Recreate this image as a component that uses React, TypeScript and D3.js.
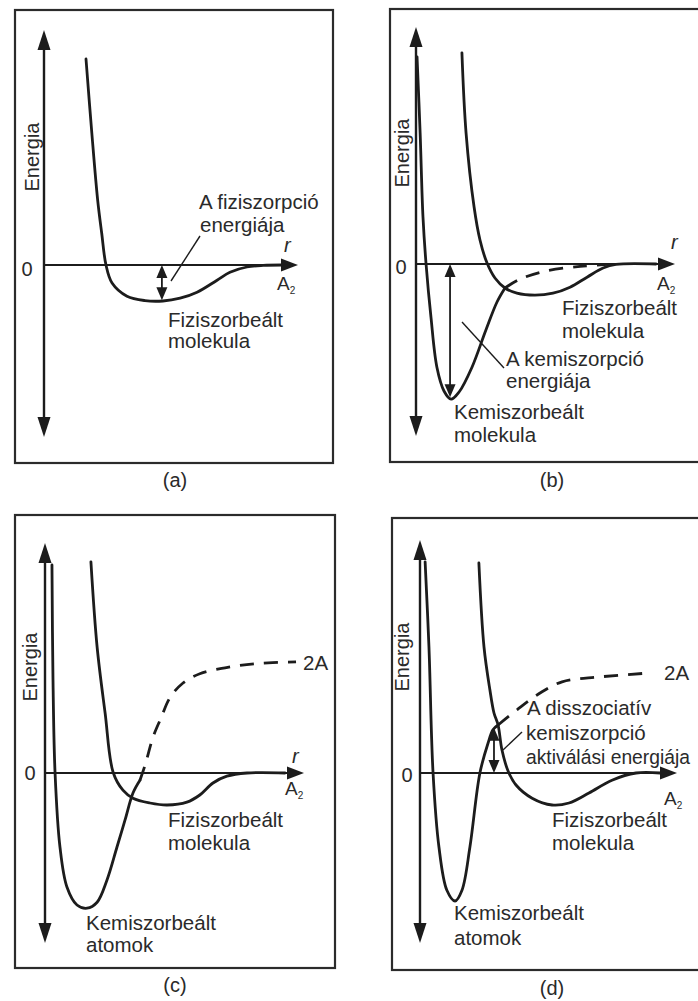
import * as d3 from "d3";

type Pt = [number, number];

// r runs 0–10 along each r axis, energy 0 = free A2 molecule
const physA: Pt[] = [
  [1.66, 5.15], [1.89, 3.3], [2.12, 1.63], [2.28, 0.8], [2.45, 0], [2.69, -0.45],
  [3.28, -0.78], [3.99, -0.89], [4.7, -0.9], [5.38, -0.83], [6.05, -0.68],
  [6.84, -0.38], [7.35, -0.18], [8.02, -0.05], [8.66, -0.01], [9.4, 0],
];

const chemB: Pt[] = [
  [0.04, 5.18], [0.16, 3.28], [0.27, 1.18], [0.39, 0], [0.58, -1.33], [0.81, -2.58],
  [1.09, -3.18], [1.36, -3.38], [1.67, -3.2], [2.17, -2.58], [2.71, -1.65],
  [3.14, -0.95], [3.45, -0.6],
];
const chemBDashed: Pt[] = [
  [3.45, -0.6], [4.03, -0.38], [5.0, -0.18], [6.36, -0.06], [7.52, -0.01],
];
const physB: Pt[] = [
  [1.78, 5.28], [1.94, 3.28], [2.25, 1.43], [2.48, 0.6], [2.75, 0.03], [3.06, -0.35],
  [3.45, -0.6], [3.91, -0.73], [4.61, -0.78], [5.31, -0.73], [5.97, -0.58],
  [6.63, -0.33], [7.25, -0.1], [7.75, -0.01], [9.3, 0],
];

const chemC: Pt[] = [
  [0.27, 5.2], [0.31, 2.33], [0.39, 0], [0.58, -1.85], [0.85, -2.85], [1.24, -3.3],
  [1.63, -3.38], [2.02, -3.23], [2.4, -2.68], [2.79, -1.85], [3.1, -1.18],
  [3.41, -0.5], [3.68, -0.18],
];
const chemCDashed: Pt[] = [
  [3.68, -0.18], [3.88, 0.2], [4.19, 0.9], [4.5, 1.38], [4.84, 1.88], [5.35, 2.25],
  [6.0, 2.48], [6.98, 2.63], [8.14, 2.73], [9.73, 2.78],
];
const physC: Pt[] = [
  [1.78, 5.28], [2.02, 3.15], [2.33, 1.5], [2.64, 0.02], [3.02, -0.43], [3.41, -0.63],
  [4.07, -0.75], [4.73, -0.8], [5.5, -0.73], [6.0, -0.55], [6.51, -0.25],
  [7.05, -0.08], [7.83, 0], [9.3, 0],
];

const chemD: Pt[] = [
  [0.2, 5.28], [0.35, 3.15], [0.51, 0], [0.74, -1.85], [1.05, -2.93], [1.37, -3.2],
  [1.64, -2.93], [1.95, -1.85], [2.34, 0], [2.66, 0.75], [2.85, 1.08], [3.05, 1.2],
];
const chemDDashed: Pt[] = [
  [3.05, 1.2], [3.79, 1.58], [4.69, 2.0], [5.55, 2.28], [6.99, 2.4], [8.95, 2.5],
];
const physD: Pt[] = [
  [2.3, 5.25], [2.5, 3.15], [2.73, 2.08], [2.89, 1.5], [3.05, 1.2], [3.2, 0.58],
  [3.44, 0.05], [3.75, -0.3], [4.38, -0.63], [5.16, -0.8], [5.82, -0.75],
  [6.6, -0.5], [7.5, -0.18], [8.44, 0], [9.38, 0],
];

// double arrows: [r, energy at far end]
const arrowA: Pt = [4.66, -0.88];
const arrowB: Pt = [1.32, -3.33];
const arrowD: Pt = [2.89, 1.13];

const FONT = "'Liberation Sans', Arial, Helvetica, sans-serif";
const INK = "#1c1c1c";
const TXT = "#2a2a2a";

type Label = { t: string; x: number; y: number; kind?: "rot" | "mid" | "r" | "a2"; fit?: number };

interface Panel {
  frame: [number, number, number, number];
  axisX: number;
  axisTop: number;
  axisBottom: number;
  zeroY: number;
  zeroEnd: number;
  rUnit: number;
  solid: Pt[][];
  dashed: Pt[][];
  arrow?: Pt;
  leader?: [number, number, number, number];
  labels: Label[];
}

const panels: Panel[] = [
  {
    frame: [15, 10, 333, 463],
    axisX: 44, axisTop: 30, axisBottom: 437, zeroY: 265, zeroEnd: 298, rUnit: 25.3,
    solid: [physA], dashed: [], arrow: arrowA,
    leader: [200, 236, 171, 281],
    labels: [
      { t: "Energia", x: 32, y: 157, kind: "rot" },
      { t: "0", x: 27, y: 276, kind: "mid" },
      { t: "r", x: 284, y: 252, kind: "r" },
      { t: "A", x: 277, y: 290, kind: "a2" },
      { t: "A fiziszorpció", x: 199, y: 209 },
      { t: "energiája", x: 200, y: 232 },
      { t: "Fiziszorbeált", x: 168, y: 327 },
      { t: "molekula", x: 168, y: 348 },
      { t: "(a)", x: 175, y: 487, kind: "mid" },
    ],
  },
  {
    frame: [390, 9, 720, 462],
    axisX: 416, axisTop: 27, axisBottom: 436, zeroY: 264, zeroEnd: 675, rUnit: 25.8,
    solid: [chemB, physB], dashed: [chemBDashed], arrow: arrowB,
    leader: [462, 322, 504, 368],
    labels: [
      { t: "Energia", x: 402, y: 153, kind: "rot" },
      { t: "0", x: 401, y: 274, kind: "mid" },
      { t: "r", x: 671, y: 249, kind: "r" },
      { t: "A", x: 657, y: 290, kind: "a2" },
      { t: "Fiziszorbeált", x: 562, y: 315 },
      { t: "molekula", x: 562, y: 338 },
      { t: "A kemiszorpció", x: 506, y: 366 },
      { t: "energiája", x: 506, y: 388 },
      { t: "Kemiszorbeált", x: 454, y: 419 },
      { t: "molekula", x: 454, y: 442 },
      { t: "(b)", x: 552, y: 487, kind: "mid" },
    ],
  },
  {
    frame: [15, 515, 335, 968],
    axisX: 45, axisTop: 543, axisBottom: 943, zeroY: 773, zeroEnd: 304, rUnit: 25.8,
    solid: [chemC, physC], dashed: [chemCDashed],
    labels: [
      { t: "Energia", x: 30, y: 667, kind: "rot" },
      { t: "0", x: 30, y: 780, kind: "mid" },
      { t: "r", x: 292, y: 763, kind: "r" },
      { t: "A", x: 285, y: 795, kind: "a2" },
      { t: "2A", x: 303, y: 670 },
      { t: "Fiziszorbeált", x: 168, y: 827 },
      { t: "molekula", x: 168, y: 850 },
      { t: "Kemiszorbeált", x: 86, y: 930 },
      { t: "atomok", x: 86, y: 952 },
      { t: "(c)", x: 175, y: 992, kind: "mid" },
    ],
  },
  {
    frame: [392, 518, 720, 970],
    axisX: 420, axisTop: 540, axisBottom: 943, zeroY: 773, zeroEnd: 677, rUnit: 25.6,
    solid: [chemD, physD], dashed: [chemDDashed], arrow: arrowD,
    leader: [522, 732, 503, 750],
    labels: [
      { t: "Energia", x: 402, y: 657, kind: "rot" },
      { t: "0", x: 407, y: 782, kind: "mid" },
      { t: "A", x: 664, y: 805, kind: "a2" },
      { t: "2A", x: 664, y: 680 },
      { t: "A disszociatív", x: 527, y: 715 },
      { t: "kemiszorpció", x: 526, y: 740 },
      { t: "aktiválási energiája", x: 526, y: 764, fit: 164 },
      { t: "Fiziszorbeált", x: 552, y: 827 },
      { t: "molekula", x: 552, y: 850 },
      { t: "Kemiszorbeált", x: 454, y: 920 },
      { t: "atomok", x: 454, y: 945 },
      { t: "(d)", x: 552, y: 995, kind: "mid" },
    ],
  },
];

// triangle with its tip at (x, y), pointing in direction dir
function head(x: number, y: number, dir: "up" | "down" | "right", len: number, half: number) {
  let p: Pt[];
  if (dir === "up") p = [[x, y], [x - half, y + len], [x + half, y + len]];
  else if (dir === "down") p = [[x, y], [x - half, y - len], [x + half, y - len]];
  else p = [[x, y], [x - len, y - half], [x - len, y + half]];
  return <polygon points={p.map((d) => d.join(",")).join(" ")} fill={INK} />;
}

function PanelView({ p }: { p: Panel }) {
  const x = d3.scaleLinear().domain([0, 10]).range([p.axisX, p.axisX + 10 * p.rUnit]);
  const y = d3.scaleLinear().domain([-5, 5]).range([p.zeroY + 200, p.zeroY - 200]);
  const line = d3
    .line<Pt>()
    .x((d) => x(d[0]))
    .y((d) => y(d[1]))
    .curve(d3.curveCatmullRom.alpha(0.5));
  const [fx0, fy0, fx1, fy1] = p.frame;

  let arrow = null;
  if (p.arrow) {
    const ax = x(p.arrow[0]);
    const y0 = y(0);
    const y1 = y(p.arrow[1]);
    const up = y1 < y0;
    arrow = (
      <g>
        <line x1={ax} x2={ax} y1={y0 + (up ? -4 : 4)} y2={y1 + (up ? 4 : -4)} stroke={INK} strokeWidth={1.8} />
        {head(ax, up ? y1 : y0, "up", 13, 5.5)}
        {head(ax, up ? y0 : y1, "down", 13, 5.5)}
      </g>
    );
  }

  return (
    <g>
      <rect x={fx0} y={fy0} width={fx1 - fx0} height={fy1 - fy0} fill="none" stroke="#2b2b2b" strokeWidth={2.2} />
      {/* energy axis */}
      <line x1={p.axisX} x2={p.axisX} y1={p.axisTop + 12} y2={p.axisBottom - 12} stroke={INK} strokeWidth={2.4} />
      {head(p.axisX, p.axisTop, "up", 20, 6.5)}
      {head(p.axisX, p.axisBottom, "down", 20, 6.5)}
      {/* r axis at zero energy */}
      <line x1={p.axisX} x2={p.zeroEnd - 10} y1={y(0)} y2={y(0)} stroke={INK} strokeWidth={2} />
      {head(p.zeroEnd, y(0), "right", 17, 6.5)}
      {p.solid.map((c, i) => (
        <path key={"s" + i} d={line(c) || ""} fill="none" stroke={INK} strokeWidth={2.8} strokeLinecap="round" strokeLinejoin="round" />
      ))}
      {p.dashed.map((c, i) => (
        <path key={"d" + i} d={line(c) || ""} fill="none" stroke={INK} strokeWidth={2.8} strokeDasharray="14 10" />
      ))}
      {arrow}
      {p.leader && (
        <line x1={p.leader[0]} y1={p.leader[1]} x2={p.leader[2]} y2={p.leader[3]} stroke={INK} strokeWidth={1.4} />
      )}
      {p.labels.map((l, i) => {
        if (l.kind === "rot")
          return (
            <text key={i} x={l.x} y={l.y} transform={`rotate(-90 ${l.x} ${l.y})`} textAnchor="middle" dominantBaseline="central" fontSize={20}>
              {l.t}
            </text>
          );
        if (l.kind === "mid")
          return (
            <text key={i} x={l.x} y={l.y} textAnchor="middle" fontSize={20}>
              {l.t}
            </text>
          );
        if (l.kind === "r")
          return (
            <text key={i} x={l.x} y={l.y} fontSize={20} fontStyle="italic">
              {l.t}
            </text>
          );
        if (l.kind === "a2")
          return (
            <text key={i} x={l.x} y={l.y} fontSize={19}>
              {l.t}
              <tspan fontSize={10} dy={4}>2</tspan>
            </text>
          );
        return (
          <text
            key={i}
            x={l.x}
            y={l.y}
            fontSize={20.5}
            textLength={l.fit}
            lengthAdjust={l.fit ? "spacingAndGlyphs" : undefined}
          >
            {l.t}
          </text>
        );
      })}
    </g>
  );
}

export default function App() {
  return (
    <svg
      width={698}
      height={1001}
      style={{ position: "absolute", left: 0, top: 0, background: "#fff" }}
      fontFamily={FONT}
      fill={TXT}
    >
      {panels.map((p, i) => (
        <PanelView key={i} p={p} />
      ))}
    </svg>
  );
}
